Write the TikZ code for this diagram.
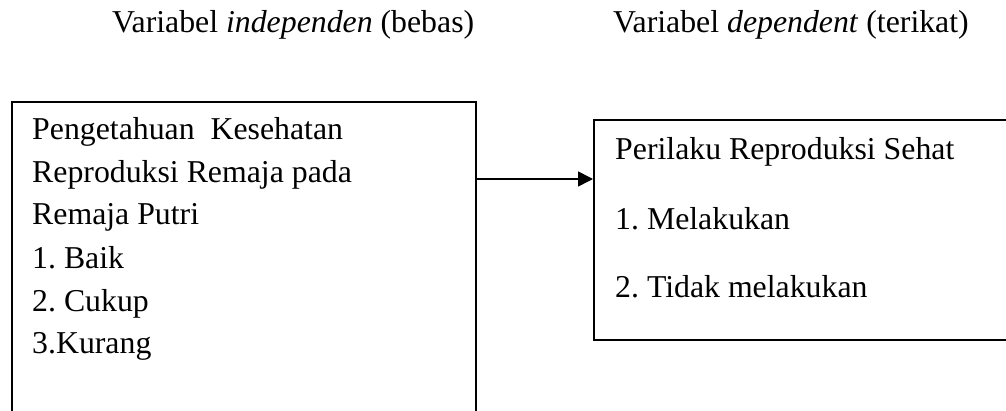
\documentclass[tikz,border=0pt]{standalone}
\usepackage{fontspec}
\setmainfont{Liberation Serif}
\usetikzlibrary{arrows.meta}
\frenchspacing
\begin{document}
\begin{tikzpicture}[x=1pt,y=-1pt,
  box/.style={draw=black, line width=1.6pt, rectangle, inner sep=0pt},
  txt/.style={inner sep=0pt, anchor=base west, font=\fontsize{31.8}{38}\selectfont},
  arr/.style={line width=1.6pt, -{Triangle[length=15pt,width=15pt]}}]
\useasboundingbox (0,0) rectangle (1006,411);
\clip (0,0) rectangle (1006,411);
\node[txt] (h1) at (112,33) {Variabel \textit{independen} (bebas)};
\node[txt] (h2) at (613,33) {Variabel \textit{dependent} (terikat)};
\node[box, anchor=north west, minimum width=464pt, minimum height=360pt] (lb) at (11,101) {};
\node[box, anchor=north west, minimum width=500pt, minimum height=220pt] (rb) at (593,119) {};
\node[txt] (l1) at (32,140) {Pengetahuan\ \ Kesehatan};
\node[txt] (l2) at (32,183) {Reproduksi Remaja pada};
\node[txt] (l3) at (32,225) {Remaja Putri};
\node[txt] (l4) at (32,268.3) {1. Baik};
\node[txt] (l5) at (32,311.7) {2. Cukup};
\node[txt] (l6) at (32,353.3) {3.Kurang};
\node[txt] (r1) at (615,160) {Perilaku Reproduksi Sehat};
\node[txt] (r2) at (615,229.3) {1. Melakukan};
\node[txt] (r3) at (615,297.3) {2. Tidak melakukan};
\coordinate (a) at (0,179);
\draw[arr] (a -| lb.east) -- (a -| rb.west);
\end{tikzpicture}
\end{document}
